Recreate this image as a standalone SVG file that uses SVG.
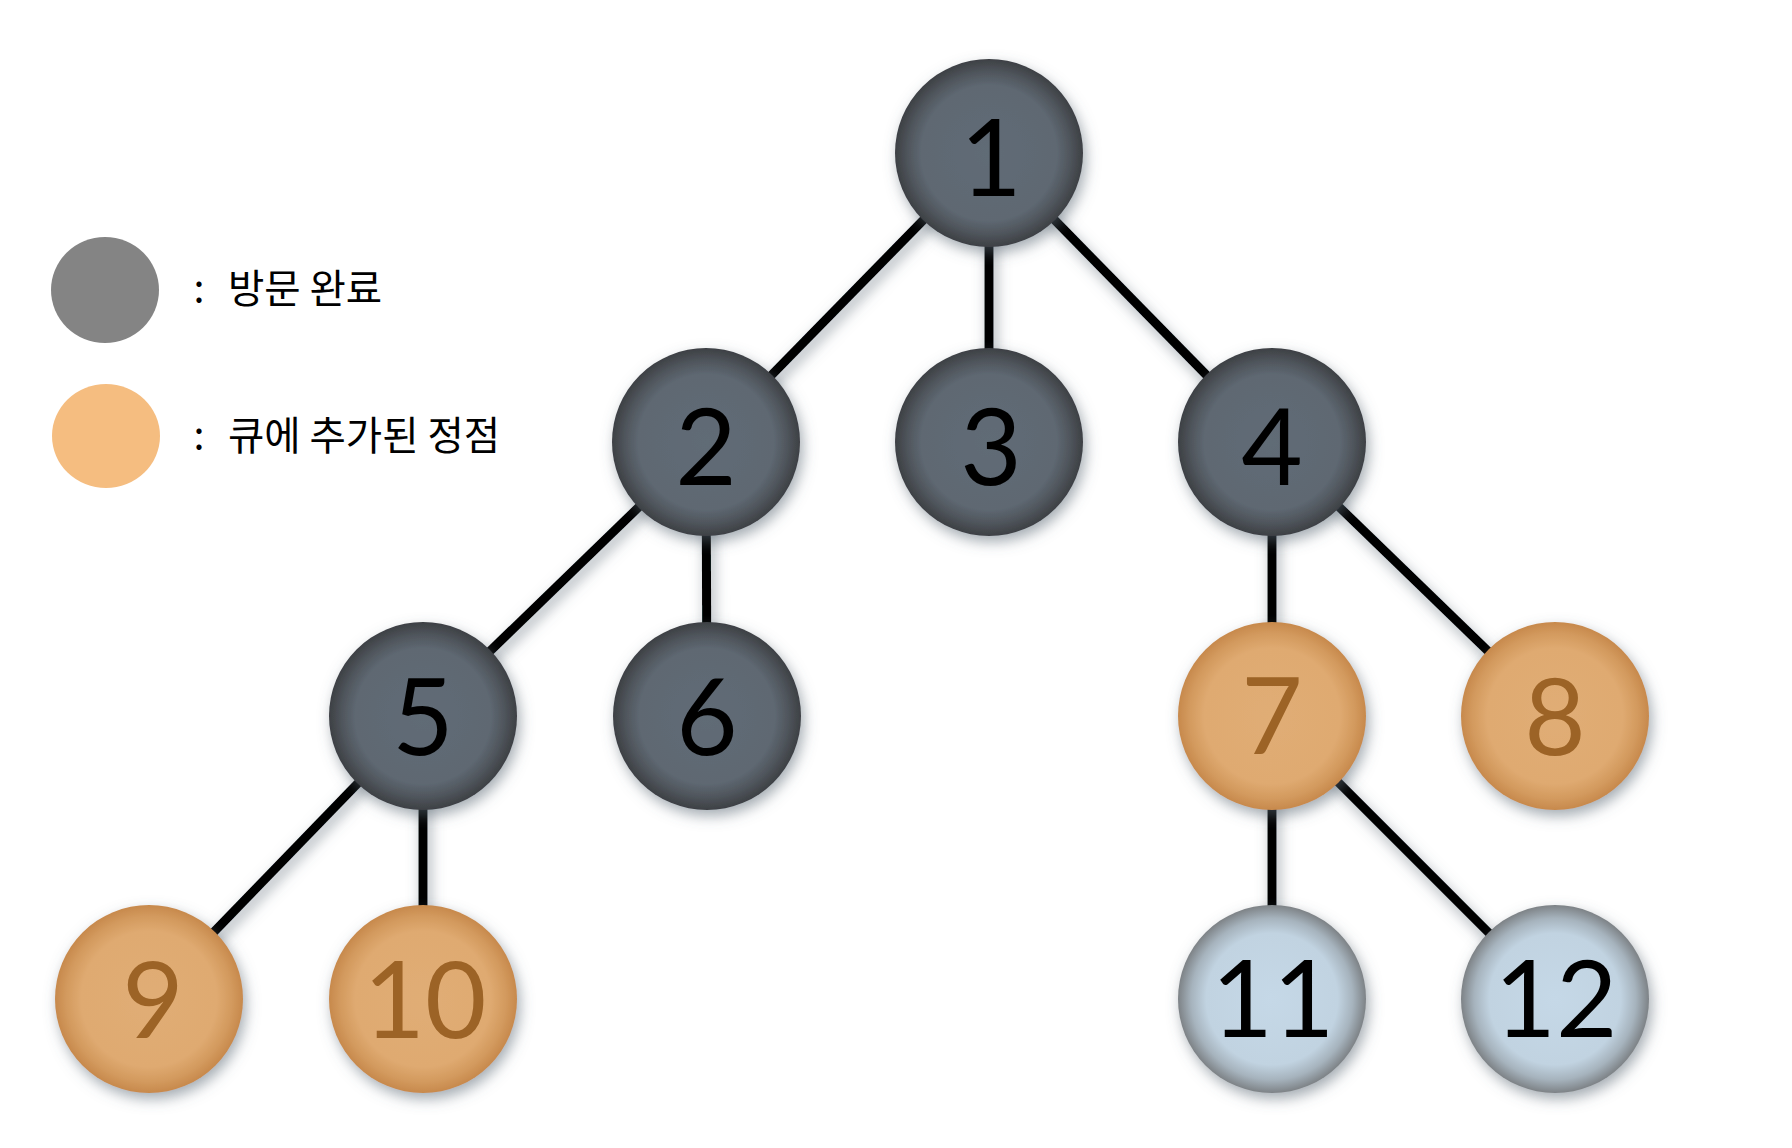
<svg xmlns="http://www.w3.org/2000/svg" width="1792" height="1148" viewBox="0 0 1792 1148">
<defs>
<radialGradient id="gDark" cx="50%" cy="50%" r="50%">
<stop offset="0" stop-color="#616c76"/>
<stop offset="0.72" stop-color="#5e6872"/>
<stop offset="0.86" stop-color="#50565d"/>
<stop offset="1" stop-color="#3d4044"/>
</radialGradient>
<radialGradient id="gOrange" cx="50%" cy="50%" r="50%">
<stop offset="0" stop-color="#e0ad75"/>
<stop offset="0.72" stop-color="#dfaa71"/>
<stop offset="0.88" stop-color="#d39a5e"/>
<stop offset="1" stop-color="#c7894c"/>
</radialGradient>
<radialGradient id="gBlue" cx="50%" cy="50%" r="50%">
<stop offset="0" stop-color="#c5d8e7"/>
<stop offset="0.7" stop-color="#c1d3e1"/>
<stop offset="0.86" stop-color="#a6b3bd"/>
<stop offset="1" stop-color="#7d8286"/>
</radialGradient>
<filter id="sh" x="-30%" y="-30%" width="160%" height="160%">
<feDropShadow dx="3" dy="6" stdDeviation="7" flood-color="#5a6673" flood-opacity="0.55"/>
</filter>
</defs>
<style>
.edge{stroke:#000;stroke-width:9;fill:none}
.dark{fill:url(#gDark)}
.orange{fill:url(#gOrange)}
.blue{fill:url(#gBlue)}
.num{font-family:Lato,"Liberation Sans",sans-serif;font-size:106px;text-anchor:middle}
.tdark{fill:#000}
.torange{fill:#9c6326}
.leg{font-family:"Noto Sans CJK KR","Noto Sans",sans-serif;font-size:39.5px;fill:#000}
</style>
<rect width="1792" height="1148" fill="#fff"/>
<g id="legend">
<ellipse cx="105" cy="290" rx="54" ry="53" fill="#848484"/>
<text class="leg" x="199" y="303" text-anchor="middle">:</text>
<text class="leg" x="228" y="303">방문 완료</text>
<ellipse cx="106" cy="436" rx="54" ry="52" fill="#f5bd80"/>
<text class="leg" x="199" y="450" text-anchor="middle">:</text>
<text class="leg" x="228" y="450">큐에 추가된 정점</text>
</g>
<g id="connectors" filter="url(#sh)">
<line class="edge" x1="989" y1="153" x2="706" y2="442"/>
<line class="edge" x1="989" y1="153" x2="989" y2="442"/>
<line class="edge" x1="989" y1="153" x2="1272" y2="442"/>
<line class="edge" x1="706" y1="442" x2="423" y2="716"/>
<line class="edge" x1="706" y1="442" x2="707" y2="716"/>
<line class="edge" x1="1272" y1="442" x2="1272" y2="716"/>
<line class="edge" x1="1272" y1="442" x2="1555" y2="716"/>
<line class="edge" x1="423" y1="716" x2="149" y2="999"/>
<line class="edge" x1="423" y1="716" x2="423" y2="999"/>
<line class="edge" x1="1272" y1="716" x2="1272" y2="999"/>
<line class="edge" x1="1272" y1="716" x2="1555" y2="999"/>
</g>
<g id="node1"><circle class="dark" cx="989" cy="153" r="94" filter="url(#sh)"/><text class="num tdark" x="991" y="196">1</text></g>
<g id="node2"><circle class="dark" cx="706" cy="442" r="94" filter="url(#sh)"/><text class="num tdark" x="706" y="485">2</text></g>
<g id="node3"><circle class="dark" cx="989" cy="442" r="94" filter="url(#sh)"/><text class="num tdark" x="991" y="485">3</text></g>
<g id="node4"><circle class="dark" cx="1272" cy="442" r="94" filter="url(#sh)"/><text class="num tdark" x="1272" y="485">4</text></g>
<g id="node5"><circle class="dark" cx="423" cy="716" r="94" filter="url(#sh)"/><text class="num tdark" x="423" y="755">5</text></g>
<g id="node6"><circle class="dark" cx="707" cy="716" r="94" filter="url(#sh)"/><text class="num tdark" x="707" y="755">6</text></g>
<g id="node7"><circle class="orange" cx="1272" cy="716" r="94" filter="url(#sh)"/><text class="num torange" x="1272" y="754">7</text></g>
<g id="node8"><circle class="orange" cx="1555" cy="716" r="94" filter="url(#sh)"/><text class="num torange" x="1555" y="755">8</text></g>
<g id="node9"><circle class="orange" cx="149" cy="999" r="94" filter="url(#sh)"/><text class="num torange" x="153" y="1038">9</text></g>
<g id="node10"><circle class="orange" cx="423" cy="999" r="94" filter="url(#sh)"/><text class="num torange" x="425" y="1038">10</text></g>
<g id="node11"><circle class="blue" cx="1272" cy="999" r="94" filter="url(#sh)"/><text class="num tdark" x="1273" y="1037">11</text></g>
<g id="node12"><circle class="blue" cx="1555" cy="999" r="94" filter="url(#sh)"/><text class="num tdark" x="1556" y="1037">12</text></g>
</svg>
